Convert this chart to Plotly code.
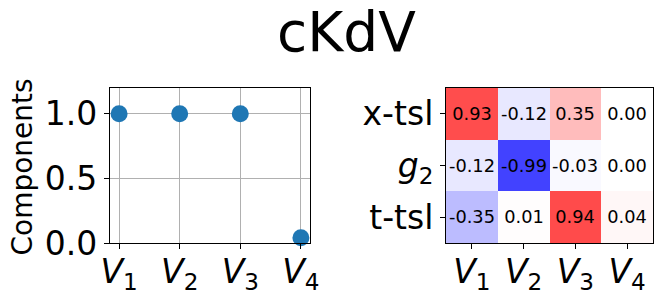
import plotly.graph_objects as go

# ---- data ----
components = ["V1", "V2", "V3", "V4"]
component_labels = ["<i>V</i><sub>1</sub>", "<i>V</i><sub>2</sub>", "<i>V</i><sub>3</sub>", "<i>V</i><sub>4</sub>"]
component_norms = [1.0, 1.0, 1.0, 0.04]
feature_labels = ["x-tsl", "<i>g</i><sub>2</sub>", "t-tsl"]
loadings = [
    [0.93, -0.12, 0.35, 0.00],
    [-0.12, -0.99, -0.03, 0.00],
    [-0.35, 0.01, 0.94, 0.04],
]
y_ticks = [0.0, 0.5, 1.0]
y_tick_labels = ["0.0", "0.5", "1.0"]
title_text = "cKdV"

W, H = 662, 299
FONT = "DejaVu Sans"

def px_x(p):
    return p / W

def px_y(p):
    return 1 - p / H

text_cells = [[f"{v:.2f}" for v in row] for row in loadings]

fig = go.Figure()

fig.add_trace(go.Scatter(
    x=list(range(len(components))), y=component_norms, mode="markers",
    marker=dict(color="#1f77b4", size=17),
    xaxis="x", yaxis="y", showlegend=False, cliponaxis=False,
))

fig.add_trace(go.Heatmap(
    z=loadings, x=list(range(len(components))), y=list(range(len(feature_labels))),
    text=text_cells, texttemplate="%{text}",
    textfont=dict(family=FONT, size=17.8, color="black"),
    colorscale=[[0, "rgb(64,64,255)"], [0.5, "rgb(255,255,255)"], [1, "rgb(255,64,64)"]],
    zmin=-1, zmax=1, showscale=False, xaxis="x2", yaxis="y2",
))

axis_common = dict(
    showline=True, linecolor="black", linewidth=1.1, mirror=True,
    ticks="outside", ticklen=5, tickwidth=1.1, tickcolor="black",
    tickfont=dict(family=FONT, size=33, color="black"),
    automargin=False, zeroline=False,
)

fig.update_layout(
    width=W, height=H, margin=dict(l=0, r=0, t=0, b=0),
    paper_bgcolor="white", plot_bgcolor="white",
    template="none",
    font=dict(family=FONT, color="black"),
    xaxis=dict(domain=[px_x(110), px_x(310)], range=[-0.15, 3.15],
               tickvals=list(range(len(components))), ticktext=component_labels,
               ticklabelstandoff=-6,
               showgrid=True, gridcolor="#b0b0b0", gridwidth=1, anchor="y", **axis_common),
    yaxis=dict(domain=[px_y(243), px_y(88)], range=[0, 1.2],
               tickvals=y_ticks, ticktext=y_tick_labels,
               showgrid=True, gridcolor="#b0b0b0", gridwidth=1, anchor="x", **axis_common),
    xaxis2=dict(domain=[px_x(446), px_x(653)], range=[-0.5, 3.5],
                tickvals=list(range(len(components))), ticktext=component_labels,
                ticklabelstandoff=-6,
                showgrid=False, anchor="y2", **axis_common),
    yaxis2=dict(domain=[px_y(243), px_y(88)], range=[2.5, -0.5],
                tickvals=list(range(len(feature_labels))), ticktext=feature_labels,
                showgrid=False, anchor="x2", **axis_common),
    annotations=[
        dict(text=title_text, x=px_x(346), y=px_y(32), xref="paper", yref="paper",
             xanchor="center", yanchor="middle", showarrow=False,
             font=dict(family=FONT, size=55, color="black")),
        dict(text="Components", x=px_x(22), y=px_y(167.5), xref="paper", yref="paper",
             xanchor="center", yanchor="middle", textangle=-90, showarrow=False,
             font=dict(family=FONT, size=28, color="black")),
    ],
)

fig.write_html("out.html",
               config={"displayModeBar": False},
               post_script="document.body.style.margin='0';document.body.style.overflow='hidden';")
